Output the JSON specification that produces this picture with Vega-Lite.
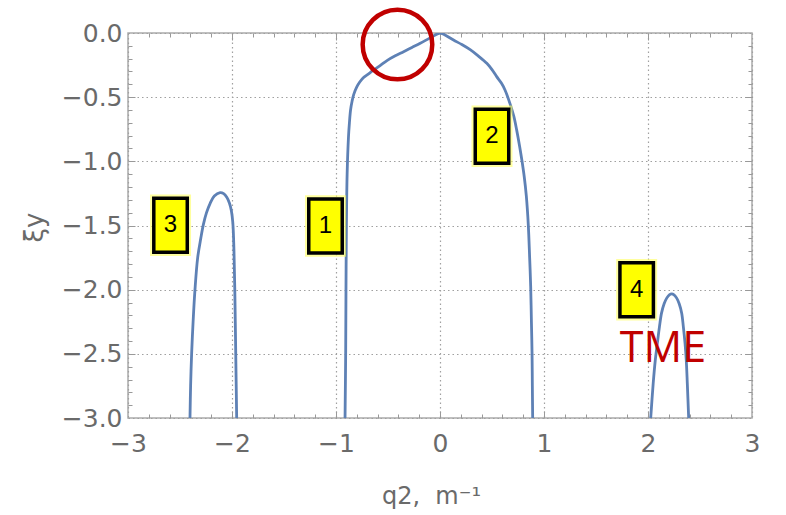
{
  "$schema": "https://vega.github.io/schema/vega-lite/v6.json",
  "width": 624,
  "height": 385,
  "autosize": {"type": "none"},
  "padding": {"left": 128, "top": 33, "right": 34, "bottom": 97},
  "background": "white",
  "config": {
    "view": {"stroke": "#ababab", "strokeWidth": 1.5},
    "axis": {"domain": false, "labelFont": "DejaVu Sans", "titleFont": "DejaVu Sans", "labelFlush": false}
  },
  "datasets": {
    "curves": [
      {"branch": "a", "q": -0.913, "xi": -3.0},
      {"branch": "a", "q": -0.907, "xi": -2.5},
      {"branch": "a", "q": -0.904, "xi": -2.0},
      {"branch": "a", "q": -0.9, "xi": -1.5},
      {"branch": "a", "q": -0.893, "xi": -1.1},
      {"branch": "a", "q": -0.88, "xi": -0.81},
      {"branch": "a", "q": -0.871, "xi": -0.7},
      {"branch": "a", "q": -0.86, "xi": -0.6},
      {"branch": "a", "q": -0.845, "xi": -0.53},
      {"branch": "a", "q": -0.83, "xi": -0.48},
      {"branch": "a", "q": -0.8, "xi": -0.42},
      {"branch": "a", "q": -0.77, "xi": -0.38},
      {"branch": "a", "q": -0.74, "xi": -0.35},
      {"branch": "a", "q": -0.69, "xi": -0.32},
      {"branch": "a", "q": -0.64, "xi": -0.29},
      {"branch": "a", "q": -0.57, "xi": -0.25},
      {"branch": "a", "q": -0.51, "xi": -0.215},
      {"branch": "a", "q": -0.43, "xi": -0.178},
      {"branch": "a", "q": -0.35, "xi": -0.146},
      {"branch": "a", "q": -0.27, "xi": -0.113},
      {"branch": "a", "q": -0.19, "xi": -0.08},
      {"branch": "a", "q": -0.1, "xi": -0.04},
      {"branch": "a", "q": -0.03, "xi": -0.01},
      {"branch": "a", "q": 0.0, "xi": 0.0},
      {"branch": "a", "q": 0.03, "xi": -0.008},
      {"branch": "a", "q": 0.13, "xi": -0.055},
      {"branch": "a", "q": 0.21, "xi": -0.09},
      {"branch": "a", "q": 0.29, "xi": -0.13},
      {"branch": "a", "q": 0.37, "xi": -0.18},
      {"branch": "a", "q": 0.45, "xi": -0.236},
      {"branch": "a", "q": 0.5, "xi": -0.285},
      {"branch": "a", "q": 0.545, "xi": -0.34},
      {"branch": "a", "q": 0.59, "xi": -0.39},
      {"branch": "a", "q": 0.625, "xi": -0.444},
      {"branch": "a", "q": 0.673, "xi": -0.55},
      {"branch": "a", "q": 0.71, "xi": -0.65},
      {"branch": "a", "q": 0.737, "xi": -0.755},
      {"branch": "a", "q": 0.765, "xi": -0.88},
      {"branch": "a", "q": 0.787, "xi": -0.99},
      {"branch": "a", "q": 0.81, "xi": -1.12},
      {"branch": "a", "q": 0.83, "xi": -1.27},
      {"branch": "a", "q": 0.849, "xi": -1.495},
      {"branch": "a", "q": 0.862, "xi": -1.75},
      {"branch": "a", "q": 0.872, "xi": -1.976},
      {"branch": "a", "q": 0.879, "xi": -2.25},
      {"branch": "a", "q": 0.885, "xi": -2.49},
      {"branch": "a", "q": 0.888, "xi": -2.75},
      {"branch": "a", "q": 0.891, "xi": -3.0},
      {"branch": "b", "q": -2.404, "xi": -3.0},
      {"branch": "b", "q": -2.398, "xi": -2.75},
      {"branch": "b", "q": -2.388, "xi": -2.495},
      {"branch": "b", "q": -2.374, "xi": -2.25},
      {"branch": "b", "q": -2.356, "xi": -2.0},
      {"branch": "b", "q": -2.33, "xi": -1.75},
      {"branch": "b", "q": -2.3, "xi": -1.6},
      {"branch": "b", "q": -2.276, "xi": -1.495},
      {"branch": "b", "q": -2.245, "xi": -1.4},
      {"branch": "b", "q": -2.21, "xi": -1.327},
      {"branch": "b", "q": -2.17, "xi": -1.27},
      {"branch": "b", "q": -2.115, "xi": -1.244},
      {"branch": "b", "q": -2.08, "xi": -1.252},
      {"branch": "b", "q": -2.05, "xi": -1.28},
      {"branch": "b", "q": -2.025, "xi": -1.325},
      {"branch": "b", "q": -2.006, "xi": -1.385},
      {"branch": "b", "q": -1.992, "xi": -1.48},
      {"branch": "b", "q": -1.981, "xi": -1.7},
      {"branch": "b", "q": -1.973, "xi": -2.0},
      {"branch": "b", "q": -1.964, "xi": -2.5},
      {"branch": "b", "q": -1.955, "xi": -3.0},
      {"branch": "c", "q": 2.026, "xi": -3.0},
      {"branch": "c", "q": 2.05, "xi": -2.73},
      {"branch": "c", "q": 2.07, "xi": -2.55},
      {"branch": "c", "q": 2.09, "xi": -2.417},
      {"branch": "c", "q": 2.11, "xi": -2.29},
      {"branch": "c", "q": 2.13, "xi": -2.183},
      {"branch": "c", "q": 2.155, "xi": -2.11},
      {"branch": "c", "q": 2.18, "xi": -2.066},
      {"branch": "c", "q": 2.205, "xi": -2.04},
      {"branch": "c", "q": 2.228, "xi": -2.033},
      {"branch": "c", "q": 2.25, "xi": -2.04},
      {"branch": "c", "q": 2.276, "xi": -2.066},
      {"branch": "c", "q": 2.3, "xi": -2.11},
      {"branch": "c", "q": 2.324, "xi": -2.183},
      {"branch": "c", "q": 2.34, "xi": -2.29},
      {"branch": "c", "q": 2.356, "xi": -2.417},
      {"branch": "c", "q": 2.368, "xi": -2.55},
      {"branch": "c", "q": 2.378, "xi": -2.73},
      {"branch": "c", "q": 2.391, "xi": -3.0}
    ],
    "boxes": [
      {"label": "3", "q": -2.591, "xi": -1.498},
      {"label": "1", "q": -1.101, "xi": -1.503},
      {"label": "2", "q": 0.5, "xi": -0.804},
      {"label": "4", "q": 1.891, "xi": -2.0}
    ],
    "circle": [{"q": -0.409, "xi": -0.09}],
    "notes": [{"text": "TME", "q": 2.144, "xi": -2.56}]
  },
  "resolve": {"axis": {"x": "independent", "y": "independent"}},
  "layer": [
    {
      "data": {"name": "curves"},
      "mark": {"type": "line", "color": "#5E81B5", "strokeWidth": 2.8, "interpolate": "catmull-rom", "clip": true},
      "encoding": {
        "x": {
          "field": "q", "type": "quantitative",
          "scale": {"domain": [-3, 3], "nice": false, "zero": false},
          "axis": {
            "orient": "bottom", "values": [-3, -2, -1, 0, 1, 2, 3], "format": "d",
            "ticks": false, "grid": true, "gridColor": "#a0a0a0", "gridDash": [1.5, 3], "gridWidth": 1.2,
            "labelFontSize": 25, "labelColor": "#6a6a6a", "labelPadding": 13,
            "title": "q2,\u00a0\u00a0m⁻¹", "titleFontSize": 24, "titleFontWeight": "normal", "titleColor": "#6a6a6a",
            "titleX": 303, "titleY": 85, "titleBaseline": "alphabetic", "titleAlign": "center"
          }
        },
        "y": {
          "field": "xi", "type": "quantitative",
          "scale": {"domain": [-3, 0], "nice": false, "zero": false},
          "axis": {
            "orient": "left", "values": [-3, -2.5, -2, -1.5, -1, -0.5, 0], "format": ".1f",
            "ticks": false, "grid": true, "gridColor": "#a0a0a0", "gridDash": [1.5, 3], "gridWidth": 1.2,
            "labelFontSize": 25, "labelColor": "#6a6a6a", "labelPadding": 6,
            "title": "ξy", "titleFontSize": 26, "titleFontWeight": "normal", "titleColor": "#6a6a6a",
            "titleX": -94, "titleY": 194, "titleAngle": 270, "titleBaseline": "middle", "titleAlign": "center"
          }
        },
        "detail": {"field": "branch"}
      }
    },
    {
      "data": {"name": "curves"},
      "mark": {"type": "point", "opacity": 0},
      "encoding": {
        "x": {
          "field": "q", "type": "quantitative",
          "scale": {"domain": [-3, 3], "nice": false, "zero": false},
          "axis": {"orient": "bottom", "values": [-2.8, -2.6, -2.4, -2.2, -1.8, -1.6, -1.4, -1.2, -0.8, -0.6, -0.4, -0.2, 0.2, 0.4, 0.6, 0.8, 1.2, 1.4, 1.6, 1.8, 2.2, 2.4, 2.6, 2.8],
                   "labels": false, "grid": false, "ticks": true, "tickSize": -4, "tickColor": "#999999", "tickWidth": 1, "title": null}
        },
        "y": {
          "field": "xi", "type": "quantitative",
          "scale": {"domain": [-3, 0], "nice": false, "zero": false},
          "axis": {"orient": "left", "values": [-2.9, -2.8, -2.7, -2.6, -2.4, -2.3, -2.2, -2.1, -1.9, -1.8, -1.7, -1.6, -1.4, -1.3, -1.2, -1.1, -0.9, -0.8, -0.7, -0.6, -0.4, -0.3, -0.2, -0.1],
                   "labels": false, "grid": false, "ticks": true, "tickSize": -4, "tickColor": "#999999", "tickWidth": 1, "title": null}
        }
      }
    },
    {
      "data": {"name": "curves"},
      "mark": {"type": "point", "opacity": 0},
      "encoding": {
        "x": {
          "field": "q", "type": "quantitative",
          "scale": {"domain": [-3, 3], "nice": false, "zero": false},
          "axis": {"orient": "bottom", "values": [-2, -1, 0, 1, 2],
                   "labels": false, "grid": false, "ticks": true, "tickSize": -7, "tickColor": "#999999", "tickWidth": 1, "title": null}
        },
        "y": {
          "field": "xi", "type": "quantitative",
          "scale": {"domain": [-3, 0], "nice": false, "zero": false},
          "axis": {"orient": "left", "values": [-2.5, -2, -1.5, -1, -0.5],
                   "labels": false, "grid": false, "ticks": true, "tickSize": -7, "tickColor": "#999999", "tickWidth": 1, "title": null}
        }
      }
    },
    {
      "data": {"name": "curves"},
      "mark": {"type": "point", "opacity": 0},
      "encoding": {
        "x": {
          "field": "q", "type": "quantitative",
          "scale": {"domain": [-3, 3], "nice": false, "zero": false},
          "axis": {"orient": "top", "values": [-2.8, -2.6, -2.4, -2.2, -1.8, -1.6, -1.4, -1.2, -0.8, -0.6, -0.4, -0.2, 0.2, 0.4, 0.6, 0.8, 1.2, 1.4, 1.6, 1.8, 2.2, 2.4, 2.6, 2.8],
                   "labels": false, "grid": false, "ticks": true, "tickSize": -4, "tickColor": "#999999", "tickWidth": 1, "title": null}
        },
        "y": {
          "field": "xi", "type": "quantitative",
          "scale": {"domain": [-3, 0], "nice": false, "zero": false},
          "axis": {"orient": "right", "values": [-2.9, -2.8, -2.7, -2.6, -2.4, -2.3, -2.2, -2.1, -1.9, -1.8, -1.7, -1.6, -1.4, -1.3, -1.2, -1.1, -0.9, -0.8, -0.7, -0.6, -0.4, -0.3, -0.2, -0.1],
                   "labels": false, "grid": false, "ticks": true, "tickSize": -4, "tickColor": "#999999", "tickWidth": 1, "title": null}
        }
      }
    },
    {
      "data": {"name": "curves"},
      "mark": {"type": "point", "opacity": 0},
      "encoding": {
        "x": {
          "field": "q", "type": "quantitative",
          "scale": {"domain": [-3, 3], "nice": false, "zero": false},
          "axis": {"orient": "top", "values": [-2, -1, 0, 1, 2],
                   "labels": false, "grid": false, "ticks": true, "tickSize": -7, "tickColor": "#999999", "tickWidth": 1, "title": null}
        },
        "y": {
          "field": "xi", "type": "quantitative",
          "scale": {"domain": [-3, 0], "nice": false, "zero": false},
          "axis": {"orient": "right", "values": [-2.5, -2, -1.5, -1, -0.5],
                   "labels": false, "grid": false, "ticks": true, "tickSize": -7, "tickColor": "#999999", "tickWidth": 1, "title": null}
        }
      }
    },
    {
      "data": {"name": "circle"},
      "mark": {"type": "point", "shape": "circle", "size": 4844, "filled": false, "stroke": "#C00000", "strokeWidth": 4.5, "opacity": 1},
      "encoding": {
        "x": {"field": "q", "type": "quantitative", "scale": {"domain": [-3, 3], "nice": false, "zero": false}, "axis": null},
        "y": {"field": "xi", "type": "quantitative", "scale": {"domain": [-3, 0], "nice": false, "zero": false}, "axis": null}
      }
    },
    {
      "data": {"name": "boxes"},
      "mark": {"type": "point", "shape": "M-0.62,-1H0.62V1H-0.62Z", "size": 2916, "filled": true, "fill": "#FFFF40", "stroke": "#FFFF60", "strokeWidth": 7.5, "opacity": 0.6},
      "encoding": {
        "x": {"field": "q", "type": "quantitative", "scale": {"domain": [-3, 3], "nice": false, "zero": false}, "axis": null},
        "y": {"field": "xi", "type": "quantitative", "scale": {"domain": [-3, 0], "nice": false, "zero": false}, "axis": null}
      }
    },
    {
      "data": {"name": "boxes"},
      "mark": {"type": "point", "shape": "M-0.62,-1H0.62V1H-0.62Z", "size": 2916, "filled": true, "fill": "#FFFF00", "stroke": "#000000", "strokeWidth": 3.5, "opacity": 1},
      "encoding": {
        "x": {"field": "q", "type": "quantitative", "scale": {"domain": [-3, 3], "nice": false, "zero": false}, "axis": null},
        "y": {"field": "xi", "type": "quantitative", "scale": {"domain": [-3, 0], "nice": false, "zero": false}, "axis": null}
      }
    },
    {
      "data": {"name": "boxes"},
      "mark": {"type": "text", "font": "Liberation Sans", "fontSize": 24, "color": "#000000", "align": "center", "baseline": "middle"},
      "encoding": {
        "x": {"field": "q", "type": "quantitative", "scale": {"domain": [-3, 3], "nice": false, "zero": false}, "axis": null},
        "y": {"field": "xi", "type": "quantitative", "scale": {"domain": [-3, 0], "nice": false, "zero": false}, "axis": null},
        "text": {"field": "label"}
      }
    },
    {
      "data": {"name": "notes"},
      "mark": {"type": "text", "font": "Open Sans", "fontSize": 43, "color": "#C00000", "align": "center", "baseline": "alphabetic"},
      "encoding": {
        "x": {"field": "q", "type": "quantitative", "scale": {"domain": [-3, 3], "nice": false, "zero": false}, "axis": null},
        "y": {"field": "xi", "type": "quantitative", "scale": {"domain": [-3, 0], "nice": false, "zero": false}, "axis": null},
        "text": {"field": "text"}
      }
    }
  ]
}
